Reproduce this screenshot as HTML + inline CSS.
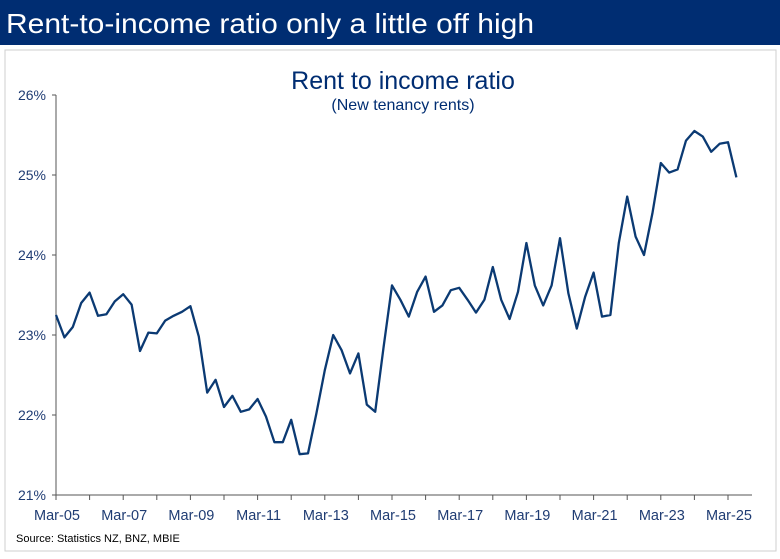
<!DOCTYPE html>
<html><head><meta charset="utf-8"><style>
body{margin:0;background:#fff;}
svg{display:block;font-family:"Liberation Sans",Arial,sans-serif;}
</style></head><body>
<svg id="chart" width="780" height="559" viewBox="0 0 780 559">
<rect x="0" y="0" width="780" height="45" fill="#002D72"/>
<text x="6" y="33" font-size="28" fill="#fff" textLength="528" lengthAdjust="spacingAndGlyphs">Rent-to-income ratio only a little off high</text>
<rect x="5" y="50" width="771" height="501" fill="#fff" stroke="#cfcfcf"/>
<text x="403" y="89" font-size="25" fill="#002D72" text-anchor="middle">Rent to income ratio</text>
<text x="403" y="110" font-size="16" fill="#002D72" text-anchor="middle">(New tenancy rents)</text>
<text x="16" y="542" font-size="11" fill="#000">Source: Statistics NZ, BNZ, MBIE</text>
<g id="axes"></g>
<path id="line" fill="none" stroke="#0B3A73" stroke-width="2.3" stroke-linejoin="round"/>
</svg>
<script>
const values = [23.25,22.97,23.10,23.40,23.53,23.24,23.26,23.42,23.51,23.38,22.80,23.03,23.02,23.18,23.24,23.29,23.36,22.98,22.28,22.44,22.10,22.24,22.04,22.07,22.20,21.98,21.66,21.66,21.94,21.51,21.52,22.02,22.56,23.00,22.81,22.52,22.77,22.13,22.04,22.85,23.62,23.44,23.23,23.54,23.73,23.29,23.37,23.56,23.59,23.44,23.28,23.44,23.85,23.44,23.20,23.54,24.15,23.62,23.37,23.62,24.21,23.52,23.08,23.48,23.78,23.23,23.25,24.15,24.73,24.23,24.00,24.52,25.15,25.03,25.07,25.43,25.55,25.48,25.29,25.39,25.41,24.97];
const yTicks = [21,22,23,24,25,26];
const xLabels = ["Mar-05","Mar-07","Mar-09","Mar-11","Mar-13","Mar-15","Mar-17","Mar-19","Mar-21","Mar-23","Mar-25"];
const x0=56, qW=8.4, yBase=495, yPer=80;
function xs(i){return x0+i*qW;}
function ys(v){return yBase-(v-21)*yPer;}
const NS="http://www.w3.org/2000/svg";
const ax=document.getElementById('axes');
function mk(t,a,txt){const e=document.createElementNS(NS,t);for(const k in a)e.setAttribute(k,a[k]);if(txt!==undefined)e.textContent=txt;ax.appendChild(e);return e;}
let e=mk('line',{x1:56,y1:95,x2:56,y2:495,stroke:'#555','stroke-width':1});


e=mk('line',{x1:56,y1:495,x2:752,y2:495,stroke:'#555','stroke-width':1});


yTicks.forEach(v=>{
  const t=mk('line',{x1:52,y1:ys(v),x2:56,y2:ys(v),stroke:'#555'});
  
  
  const l=mk('text',{x:46,y:ys(v)+5,'font-size':14,fill:'#1F3C73','text-anchor':'end'},v+'%');
  
  
});
for(let y=0;y<=20;y++){
  const t=mk('line',{x1:xs(y*4),y1:495,x2:xs(y*4),y2:500,stroke:'#555'});
  
  
}
xLabels.forEach((s,k)=>{
  const l=mk('text',{x:xs(k*8)+1,y:520,'font-size':14.5,fill:'#1F3C73','text-anchor':'middle'},s);
  
  
});
document.getElementById('line').setAttribute('d',values.map((v,i)=>(i?'L':'M')+xs(i).toFixed(1)+','+ys(v).toFixed(1)).join(''));
</script>
</body></html>
